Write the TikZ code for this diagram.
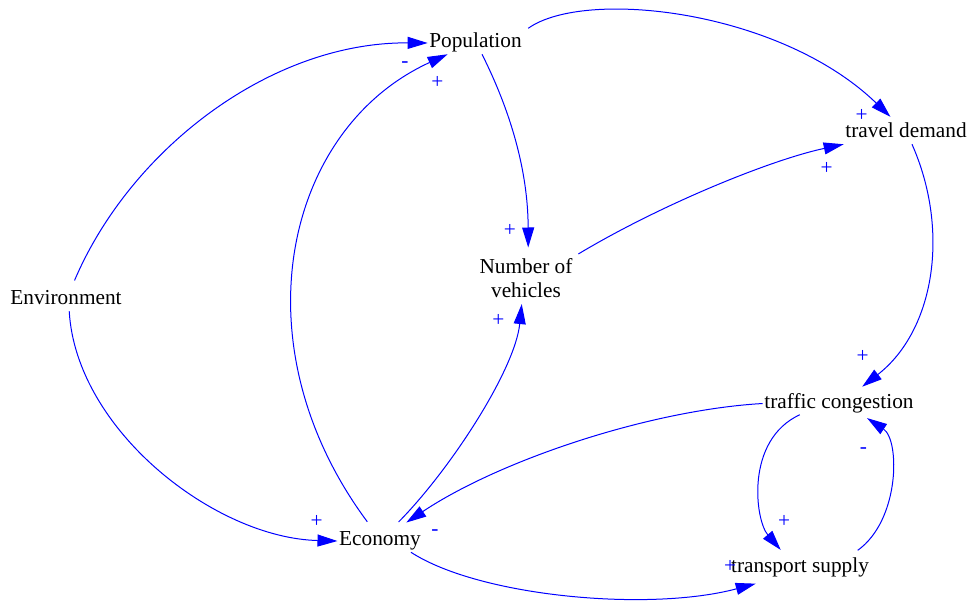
\documentclass[tikz,border=0pt]{standalone}
\usepackage{fontspec}
\setmainfont{Liberation Serif}
\usetikzlibrary{arrows.meta}
\begin{document}
\begin{tikzpicture}[x=1pt,y=-1pt,
  var/.style={font=\fontsize{21.3}{24}\selectfont, inner sep=1.5pt,
              text height=14.5pt, text depth=4.6pt},
  multivar/.style={font=\fontsize{21.3}{24}\selectfont, inner sep=1.5pt, align=center},
  polarity/.style={font=\fontsize{21.3}{24}\selectfont, text=blue, inner sep=0pt},
  link/.style={draw=blue, line width=1pt, -{Triangle[length=20pt,width=12pt]}},
]
\useasboundingbox (0,0) rectangle (972,602);

% variables
\node[var] (pop)  at (475.5,43)  {Population};
\node[var] (td)   at (906,133)   {travel demand};
\node[multivar] (nv) at (526,277.8) {Number of\\vehicles};
\node[var] (env)  at (66,300)    {Environment};
\node[var] (tc)   at (839,403.5) {traffic congestion};
\node[var] (econ) at (380,541)   {Economy};
\node[var] (ts)   at (800,568)   {transport supply};

% causal links
\draw[link, shorten <=9pt] (env.66) .. controls (130,150) and (270,42) .. (pop.west);
\draw[link] (env.-74) .. controls (76,430) and (215,538) .. (econ.west);
\draw[link, shorten <=10pt] (econ.121) .. controls (236,345) and (284,129) .. (pop.-158);
\draw[link, shorten <=11pt, shorten >=5pt] (econ.46) .. controls (450,470) and (515,370) .. (nv.-100);
\draw[link, shorten >=9pt] (pop.-60) .. controls (510,110) and (528,170) .. (nv.84);
\draw[link, shorten <=6pt, shorten >=7pt] (pop.north east) .. controls (585,-12) and (780,10) .. (td.133);
\draw[link, shorten <=5pt] (nv.north east) .. controls (660,205) and (770,160) .. (td.south west);
\draw[link, shorten >=9pt] (td.-62) .. controls (950,230) and (935,330) .. (tc.35);
\draw[link, shorten >=13pt] (tc.west) .. controls (650,410) and (500,460) .. (econ.36);
\draw[link, shorten >=9pt] (tc.-164) .. controls (745,440) and (755,520) .. (ts.140);
\draw[link, shorten <=11pt, shorten >=6pt] (ts.13) .. controls (900,520) and (900,440) .. (tc.-26);
\draw[link, shorten >=17pt] (econ.-20) .. controls (480,597) and (650,612) .. (ts.-158);

% link polarities
\node[polarity] (pEnvPop)  at (405,64.7)    {-};
\node[polarity] (pEconPop) at (437.3,82.7)  {+};
\node[polarity] (pPopNv)   at (510,230)     {+};
\node[polarity] (pEconNv)  at (498.3,320)   {+};
\node[polarity] (pPopTd)   at (861.7,115)   {+};
\node[polarity] (pNvTd)    at (826.7,168.3) {+};
\node[polarity] (pTdTc)    at (862.7,356)   {+};
\node[polarity] (pTsTc)    at (863.3,450.3) {-};
\node[polarity] (pTcTs)    at (784,521.7)   {+};
\node[polarity] (pEconTs)  at (730,566.7)   {+};
\node[polarity] (pEnvEcon) at (316.7,521.7) {+};
\node[polarity] (pTcEcon)  at (435,533)     {-};
\end{tikzpicture}
\end{document}
